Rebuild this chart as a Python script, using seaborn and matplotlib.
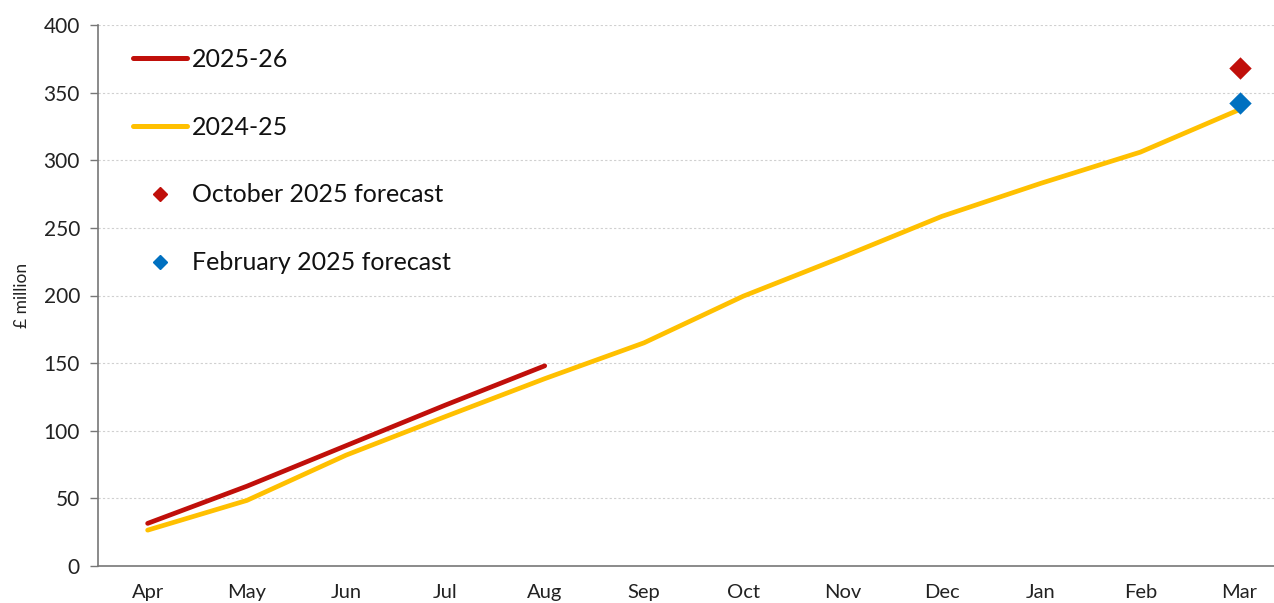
import numpy as np
import pandas as pd
import matplotlib
matplotlib.use("Agg")
import matplotlib.pyplot as plt
import seaborn as sns
from matplotlib.lines import Line2D

months = ["Apr", "May", "Jun", "Jul", "Aug", "Sep", "Oct", "Nov", "Dec", "Jan", "Feb", "Mar"]
vals_2025_26 = [31.5, 59, 89, 119, 148]
vals_2024_25 = [26.5, 48.5, 82, 110.5, 138.5, 165, 199.5, 228.5, 258.5, 283, 306, 337.5]
oct_2025_forecast = [368]
feb_2025_forecast = [342.5]

RED = "#C00F0A"
YEL = "#FFC000"
BLUE = "#0070C0"

sns.set_theme(style="white")
plt.rcParams['font.family'] = ['Lato', 'DejaVu Sans']

fig = plt.figure(figsize=(12.74, 6.03), dpi=100)
ax = fig.add_axes([98/1274, 1 - 566/603, 1 - 98/1274, (566 - 25)/603])

df_a = pd.DataFrame({"x": np.arange(len(vals_2025_26)), "y": vals_2025_26})
df_b = pd.DataFrame({"x": np.arange(len(vals_2024_25)), "y": vals_2024_25})
df_oct = pd.DataFrame({"x": [len(months) - 1], "y": oct_2025_forecast})
df_feb = pd.DataFrame({"x": [len(months) - 1], "y": feb_2025_forecast})

sns.lineplot(data=df_b, x="x", y="y", ax=ax, color=YEL, linewidth=3.4, zorder=3)
sns.lineplot(data=df_a, x="x", y="y", ax=ax, color=RED, linewidth=3.4, zorder=4,
             solid_capstyle="round")
sns.scatterplot(data=df_oct, x="x", y="y", ax=ax, color=RED, marker="D", s=130,
                linewidth=0, zorder=5)
sns.scatterplot(data=df_feb, x="x", y="y", ax=ax, color=BLUE, marker="D", s=130,
                linewidth=0, zorder=5)

ax.set_yticks(np.arange(0, 401, 50))
ax.set_xticks(np.arange(len(months)))
ax.set_xticklabels(months)
ax.set_xticks(np.arange(len(months) + 1) - 0.5, minor=True)
ax.set_ylim(0, 400)
ax.set_xlim(-0.5, (1274 - 98) / 99.27 - 0.5)
ax.tick_params(axis="x", which="major", length=0, labelsize=14.5, pad=13, colors="#222222")
ax.tick_params(axis="x", which="minor", length=7, width=1, color="#777777", direction="out")
ax.tick_params(axis="y", which="major", length=6, width=1, color="#777777", direction="out",
               left=True, labelsize=15, pad=7)
for lbl in ax.get_yticklabels():
    lbl.set_color("#222222")

ax.grid(axis="y", color="#d0d0d0", linestyle=(0, (2, 2)), linewidth=0.8)
ax.set_axisbelow(True)
for s in ["top", "right"]:
    ax.spines[s].set_visible(False)
for s in ["left", "bottom"]:
    ax.spines[s].set_color("#777777")
    ax.spines[s].set_linewidth(1.2)

ax.set_xlabel("")
ax.set_ylabel("£ million", fontsize=12.5, color="#222222")
ax.yaxis.set_label_coords(-0.058, 0.5)

handles = [
    Line2D([], [], color=RED, linewidth=3.6),
    Line2D([], [], color=YEL, linewidth=3.6),
    Line2D([], [], color=RED, marker="D", linestyle="none", markersize=7.5),
    Line2D([], [], color=BLUE, marker="D", linestyle="none", markersize=7.5),
]
labels = ["2025-26", "2024-25", "October 2025 forecast", "February 2025 forecast"]
leg = fig.legend(handles, labels, loc="upper left", bbox_to_anchor=(133/1274, 1 - 48/603),
                 frameon=False, fontsize=18, handlelength=2.16, handletextpad=0.2,
                 labelspacing=1.79, borderaxespad=0, borderpad=0)
for t in leg.get_texts():
    t.set_color("#111111")

fig.savefig("out.png", dpi=100)
